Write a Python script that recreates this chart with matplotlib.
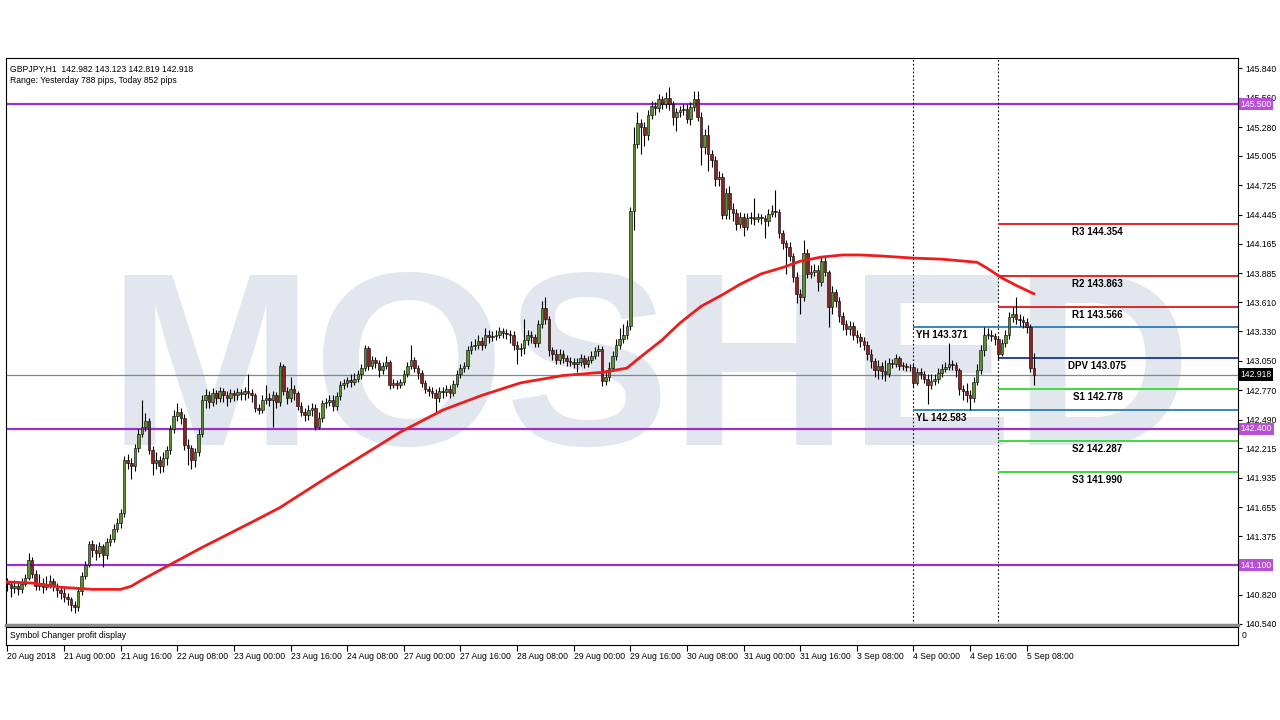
import matplotlib.pyplot as plt
import matplotlib.transforms as mtransforms
import numpy as np

# GBPJPY H1, bar 0 = 20 Aug 2018 08:00
first_open = 140.95
closes = [
    140.92, 140.88, 140.90, 140.87, 140.92, 140.98, 141.15, 141.02, 140.90, 140.93, 140.89, 140.92, 140.95, 140.90, 140.86, 140.84,
    140.80, 140.78, 140.72, 140.70, 140.85, 141.00, 141.10, 141.30, 141.25, 141.22, 141.28, 141.20, 141.32, 141.35, 141.45, 141.50,
    141.60, 142.10, 142.08, 142.05, 142.22, 142.35, 142.42, 142.48, 142.20, 142.08, 142.10, 142.05, 142.12, 142.20, 142.40, 142.52,
    142.56, 142.50, 142.25, 142.22, 142.10, 142.18, 142.35, 142.68, 142.72, 142.66, 142.74, 142.70, 142.76, 142.72, 142.70, 142.74,
    142.72, 142.75, 142.73, 142.76, 142.74, 142.72, 142.60, 142.58, 142.68, 142.70, 142.68, 142.72, 142.66, 143.00, 142.76, 142.70,
    142.78, 142.74, 142.62, 142.56, 142.53, 142.58, 142.60, 142.42, 142.50, 142.65, 142.66, 142.68, 142.62, 142.71, 142.82, 142.84,
    142.87, 142.85, 142.88, 142.92, 142.98, 143.17, 143.00, 143.06, 143.03, 142.96, 143.00, 143.04, 142.82, 142.84, 142.82, 142.85,
    142.92, 143.00, 143.06, 142.98, 142.93, 142.84, 142.78, 142.76, 142.74, 142.70, 142.76, 142.75, 142.78, 142.74, 142.83, 142.92,
    142.98, 143.00, 143.15, 143.19, 143.20, 143.24, 143.20, 143.30, 143.28, 143.29, 143.30, 143.33, 143.32, 143.31, 143.30, 143.20,
    143.16, 143.17, 143.25, 143.30, 143.28, 143.22, 143.40, 143.55, 143.45, 143.15, 143.12, 143.06, 143.12, 143.08, 143.05, 143.04,
    143.02, 143.04, 143.08, 143.02, 143.06, 143.10, 143.14, 143.16, 142.86, 142.90, 142.98, 143.10, 143.20, 143.26, 143.30, 143.38,
    144.48, 145.12, 145.32, 145.28, 145.20, 145.40, 145.48, 145.46, 145.55, 145.50, 145.56, 145.50, 145.38, 145.42, 145.44, 145.45,
    145.36, 145.47, 145.55, 145.38, 145.09, 145.20, 145.02, 144.97, 144.78, 144.80, 144.44, 144.65, 144.50, 144.46, 144.36, 144.42,
    144.33, 144.41, 144.42, 144.40, 144.42, 144.41, 144.38, 144.45, 144.48, 144.47, 144.27, 144.17, 144.14, 144.05, 143.85, 143.69,
    143.66, 144.08, 143.88, 143.90, 143.92, 143.80, 144.00, 143.90, 143.56, 143.71, 143.62, 143.48, 143.40, 143.35, 143.38, 143.30,
    143.28, 143.24, 143.20, 143.12, 143.05, 142.96, 143.00, 142.95, 142.92, 143.03, 143.02, 143.08, 143.00, 143.00, 142.99, 142.99,
    142.84, 142.94, 142.92, 142.88, 142.82, 142.86, 142.88, 142.93, 142.97, 142.99, 143.02, 143.01, 142.96, 142.78, 142.76, 142.72,
    142.70, 142.85, 142.96, 143.15, 143.30, 143.30, 143.29, 143.26, 143.12, 143.22, 143.30, 143.47, 143.50, 143.45, 143.44, 143.42,
    143.37, 142.982, 142.918,
]
highs = [
    140.98, 140.95, 140.96, 140.95, 140.98, 141.02, 141.22, 141.18, 141.05, 141.02, 140.98, 141.00, 141.01, 140.98, 140.93, 140.90,
    140.88, 140.84, 140.80, 140.76, 140.88, 141.04, 141.14, 141.33, 141.34, 141.30, 141.32, 141.30, 141.36, 141.40, 141.49, 141.55,
    141.64, 142.14, 142.16, 142.12, 142.26, 142.40, 142.68, 142.55, 142.50, 142.24, 142.18, 142.14, 142.18, 142.24, 142.44, 142.58,
    142.65, 142.60, 142.54, 142.30, 142.25, 142.22, 142.40, 142.72, 142.78, 142.76, 142.79, 142.77, 142.80, 142.79, 142.76, 142.78,
    142.77, 142.79, 142.78, 142.80, 142.92, 142.78, 142.74, 142.64, 142.72, 142.82, 142.74, 142.76, 142.75, 143.04, 143.02, 142.80,
    142.90, 142.82, 142.76, 142.66, 142.60, 142.63, 142.65, 142.64, 142.56, 142.68, 142.70, 142.72, 142.72, 142.75, 142.86, 142.88,
    142.90, 142.92, 142.93, 142.96, 143.02, 143.20, 143.19, 143.10, 143.09, 143.06, 143.04, 143.10, 143.06, 142.88, 142.87, 142.88,
    142.96, 143.04, 143.20, 143.09, 143.01, 142.96, 142.87, 142.81, 142.80, 142.78, 142.80, 142.80, 142.82, 142.82, 142.87, 142.96,
    143.02, 143.04, 143.19, 143.24, 143.26, 143.30, 143.28, 143.36, 143.34, 143.33, 143.34, 143.37, 143.36, 143.35, 143.34, 143.33,
    143.24, 143.22, 143.45, 143.34, 143.33, 143.31, 143.44, 143.62, 143.66, 143.48, 143.18, 143.16, 143.16, 143.15, 143.11, 143.09,
    143.08, 143.08, 143.12, 143.11, 143.10, 143.14, 143.18, 143.20, 143.19, 142.96, 143.04, 143.14, 143.26, 143.36, 143.40, 143.44,
    144.52, 145.28, 145.42, 145.36, 145.33, 145.44, 145.53, 145.52, 145.60, 145.58, 145.61, 145.66, 145.53, 145.46, 145.48, 145.50,
    145.50, 145.52, 145.62, 145.62, 145.42, 145.26, 145.30, 145.06, 145.00, 144.86, 144.84, 144.70, 144.72, 144.56, 144.50, 144.47,
    144.46, 144.46, 144.47, 144.60, 144.46, 144.45, 144.44, 144.50, 144.54, 144.68, 144.50, 144.30, 144.20, 144.18, 144.08, 143.90,
    143.74, 144.20, 144.12, 143.96, 143.97, 143.96, 144.05, 144.04, 143.92, 143.76, 143.74, 143.66, 143.52, 143.44, 143.43, 143.42,
    143.34, 143.32, 143.28, 143.24, 143.16, 143.08, 143.06, 143.04, 143.06, 143.08, 143.07, 143.12, 143.10, 143.04, 143.03, 143.02,
    143.02, 142.98, 142.98, 142.95, 142.92, 142.92, 142.92, 142.98, 143.02, 143.04, 143.22, 143.06, 143.04, 142.98, 142.82, 142.84,
    142.77, 142.90, 143.02, 143.20, 143.371, 143.36, 143.34, 143.32, 143.28, 143.26, 143.34, 143.52, 143.56, 143.66, 143.50, 143.48,
    143.46, 143.40, 143.123,
]
lows = [
    140.85, 140.80, 140.84, 140.82, 140.84, 140.90, 140.96, 140.98, 140.86, 140.86, 140.84, 140.86, 140.88, 140.85, 140.80, 140.78,
    140.75, 140.72, 140.66, 140.64, 140.66, 140.82, 140.97, 141.08, 141.18, 141.15, 141.18, 141.08, 141.16, 141.28, 141.32, 141.42,
    141.46, 141.56, 142.02, 141.92, 142.00, 142.18, 142.32, 142.38, 142.16, 141.96, 142.02, 141.98, 141.99, 142.06, 142.16, 142.36,
    142.48, 142.45, 142.20, 142.06, 142.02, 142.04, 142.14, 142.32, 142.60, 142.60, 142.62, 142.64, 142.66, 142.66, 142.62, 142.66,
    142.67, 142.68, 142.68, 142.68, 142.70, 142.66, 142.56, 142.54, 142.55, 142.64, 142.62, 142.42, 142.60, 142.62, 142.72, 142.64,
    142.66, 142.68, 142.58, 142.52, 142.48, 142.49, 142.52, 142.39, 142.40, 142.47, 142.60, 142.62, 142.57, 142.58, 142.68, 142.78,
    142.80, 142.80, 142.82, 142.85, 142.88, 142.95, 142.96, 142.97, 142.98, 142.90, 142.92, 142.97, 142.78, 142.79, 142.78, 142.79,
    142.82, 142.90, 142.97, 142.94, 142.88, 142.80, 142.74, 142.71, 142.70, 142.56, 142.66, 142.70, 142.71, 142.70, 142.71, 142.80,
    142.89, 142.94, 142.97, 143.12, 143.15, 143.16, 143.15, 143.17, 143.22, 143.24, 143.25, 143.27, 143.27, 143.26, 143.22, 143.15,
    143.02, 143.10, 143.12, 143.20, 143.22, 143.18, 143.18, 143.36, 143.40, 143.10, 143.06, 143.02, 143.02, 143.03, 143.00, 143.00,
    142.98, 142.94, 143.00, 142.98, 142.99, 143.03, 143.07, 143.10, 142.81, 142.82, 142.86, 142.95, 143.06, 143.16, 143.22, 143.26,
    143.34, 144.30, 145.08, 145.02, 145.10, 145.16, 145.36, 145.40, 145.42, 145.45, 145.46, 145.44, 145.30, 145.24, 145.38, 145.40,
    145.32, 145.30, 145.43, 145.34, 144.92, 145.02, 144.86, 144.90, 144.72, 144.72, 144.40, 144.40, 144.40, 144.38, 144.30, 144.32,
    144.24, 144.30, 144.36, 144.35, 144.37, 144.36, 144.22, 144.34, 144.42, 144.42, 144.22, 144.12, 143.88, 144.00, 143.80, 143.60,
    143.50, 143.62, 143.84, 143.84, 143.86, 143.72, 143.76, 143.86, 143.37, 143.50, 143.56, 143.42, 143.34, 143.30, 143.30, 143.25,
    143.22, 143.18, 143.15, 143.06, 142.98, 142.90, 142.88, 142.88, 142.86, 142.90, 142.98, 142.99, 142.96, 142.96, 142.95, 142.95,
    142.80, 142.82, 142.88, 142.84, 142.64, 142.78, 142.82, 142.84, 142.90, 142.94, 142.96, 142.96, 142.90, 142.72, 142.68, 142.66,
    142.583, 142.66, 142.82, 142.92, 143.10, 143.26, 143.24, 143.20, 143.06, 143.10, 143.18, 143.26, 143.42, 143.40, 143.38, 143.36,
    143.32, 142.94, 142.819,
]

# red moving average, read at a few bars
ma_bars = [0, 7, 15, 24, 32, 35, 38, 44, 55, 69, 77, 89, 100, 111, 123, 134, 145, 157, 168, 175,
           179, 185, 190, 196, 202, 207, 213, 219, 224, 230, 236, 241, 247, 256, 264, 274, 277, 281, 285, 290]
ma_vals = [140.94, 140.93, 140.89, 140.87, 140.87, 140.90, 140.96, 141.07, 141.27, 141.51,
           141.65, 141.91, 142.14, 142.37, 142.58, 142.72, 142.84, 142.91, 142.94, 142.98,
           143.09, 143.25, 143.41, 143.57, 143.68, 143.78, 143.88, 143.94, 144.00, 144.04,
           144.06, 144.06, 144.05, 144.03, 144.02, 143.99, 143.93, 143.84, 143.77, 143.69]

levels = [145.500, 142.400, 141.100]
last_price = 142.918
pivot_names = ['R3', 'R2', 'R1', 'DPV', 'S1', 'S2', 'S3']
pivot_vals = [144.354, 143.863, 143.566, 143.075, 142.778, 142.287, 141.990]
pivot_cols = ['#e32626', '#e32626', '#e32626', '#2443a8', '#3ddc3d', '#3ddc3d', '#3ddc3d']
yest_high, yest_low = 143.371, 142.583
day_starts = [256, 280]

price_ticks = [145.840, 145.560, 145.280, 145.005, 144.725, 144.445, 144.165, 143.885, 143.610, 143.330,
               143.050, 142.770, 142.490, 142.215, 141.935, 141.655, 141.375, 140.820, 140.540]
time_ticks = list(range(0, 289, 16))
time_labels = ['20 Aug 2018', '21 Aug 00:00', '21 Aug 16:00', '22 Aug 08:00', '23 Aug 00:00', '23 Aug 16:00',
               '24 Aug 08:00', '27 Aug 00:00', '27 Aug 16:00', '28 Aug 08:00', '29 Aug 00:00', '29 Aug 16:00',
               '30 Aug 08:00', '31 Aug 00:00', '31 Aug 16:00', '3 Sep 08:00', '4 Sep 00:00', '4 Sep 16:00', '5 Sep 08:00']

plt.rcParams['font.family'] = ['Liberation Sans', 'DejaVu Sans']
fs = 6.2     # small terminal text
fsb = 7      # bold level labels

fig = plt.figure(figsize=(12.8, 7.2), dpi=100)
ax = fig.add_axes([6/1280, 1-625/720, 1232/1280, 567/720])
ax2 = fig.add_axes([6/1280, 1-645/720, 1232/1280, 18/720])

xmin, xmax = -0.4, 347.7
ax.set_xlim(xmin, xmax)
ax.set_ylim(140.530, 145.939)

# watermark
ax.text(0.523, 0.318, 'MOSHED', transform=ax.transAxes, ha='center', va='baseline',
        fontsize=178, fontweight='bold', color='#e2e6ef', zorder=0)

# candles
o = np.array([first_open] + closes[:-1])
c = np.array(closes)
h = np.array(highs)
l = np.array(lows)
x = np.arange(len(c))
up = c >= o
ax.vlines(x, l, h, color='black', lw=0.8, zorder=3)
body = np.maximum(np.abs(c - o), 0.006)
ax.bar(x[up], body[up], bottom=o[up], width=0.72, color='#5f9030', edgecolor='black', lw=0.4, zorder=4)
ax.bar(x[~up], body[~up], bottom=c[~up], width=0.72, color='#8c2222', edgecolor='black', lw=0.4, zorder=4)

# moving average
ax.plot(ma_bars, ma_vals, color='#ee1c1c', lw=2, zorder=5)

# horizontal levels
for lv in levels:
    ax.axhline(lv, color='#9b30d0', lw=1.6, zorder=2)
ax.axhline(last_price, color='#7a8894', lw=0.9, zorder=2)

for d in day_starts:
    ax.axvline(d, color='black', lw=0.8, ls=(0, (1.5, 2)), zorder=2)

# yesterday high / low
ax.hlines([yest_high, yest_low], day_starts[0], xmax, color='#2a7db4', lw=1.3, zorder=2)
ax.text(day_starts[0] + 0.6, yest_high - 0.03, 'YH %.3f' % yest_high, fontsize=fsb, fontweight='bold',
        va='top', ha='left', zorder=6)
ax.text(day_starts[0] + 0.6, yest_low - 0.03, 'YL %.3f' % yest_low, fontsize=fsb, fontweight='bold',
        va='top', ha='left', zorder=6)

# daily pivots
for name, val, col in zip(pivot_names, pivot_vals, pivot_cols):
    ax.hlines(val, day_starts[1], xmax, color=col, lw=1.4, zorder=2)
    ax.text(308, val - 0.03, '%s %.3f' % (name, val), fontsize=fsb, fontweight='bold',
            ha='center', va='top', zorder=6)

# price axis
ax.yaxis.tick_right()
ax.set_yticks(price_ticks)
ax.set_yticklabels(['%.3f' % p for p in price_ticks])
ax.tick_params(axis='y', labelsize=fs, length=3, pad=2, width=0.8)
ax.set_xticks([])
for sp in ax.spines.values():
    sp.set_linewidth(0.8)
ax.spines['bottom'].set_color('#8c8c8c')
ax.spines['bottom'].set_linewidth(2.5)

trans = mtransforms.blended_transform_factory(ax.transAxes, ax.transData)
for lv in levels:
    ax.text(1.002, lv, '%.3f' % lv, transform=trans, fontsize=fs, color='white', ha='left', va='center',
            bbox=dict(boxstyle='square,pad=0.2', fc='#b94fd8', ec='none'), zorder=10, clip_on=False)
ax.text(1.002, last_price, '%.3f' % last_price, transform=trans, fontsize=fs, color='white', ha='left',
        va='center', bbox=dict(boxstyle='square,pad=0.2', fc='black', ec='none'), zorder=10, clip_on=False)

# header
ax.text(0.003, 0.988, 'GBPJPY,H1  142.982 143.123 142.819 142.918', transform=ax.transAxes,
        fontsize=fs, va='top', ha='left', zorder=10)
ax.text(0.003, 0.968, 'Range: Yesterday 788 pips, Today 852 pips', transform=ax.transAxes,
        fontsize=fs, va='top', ha='left', zorder=10)

# lower panel and time axis
ax2.set_xlim(xmin, xmax)
ax2.set_ylim(0, 1)
ax2.set_yticks([])
ax2.set_xticks(time_ticks)
ax2.set_xticklabels(time_labels, ha='left', fontsize=fs)
ax2.tick_params(axis='x', length=4, pad=1, width=0.8)
for sp in ax2.spines.values():
    sp.set_linewidth(0.8)
ax2.text(0.003, 0.5, 'Symbol Changer profit display', transform=ax2.transAxes, fontsize=fs,
         va='center', ha='left')
ax2.text(1.003, 0.5, '0', transform=ax2.transAxes, fontsize=fs, va='center', ha='left')

fig.savefig('out.png', dpi=100, facecolor='white')
